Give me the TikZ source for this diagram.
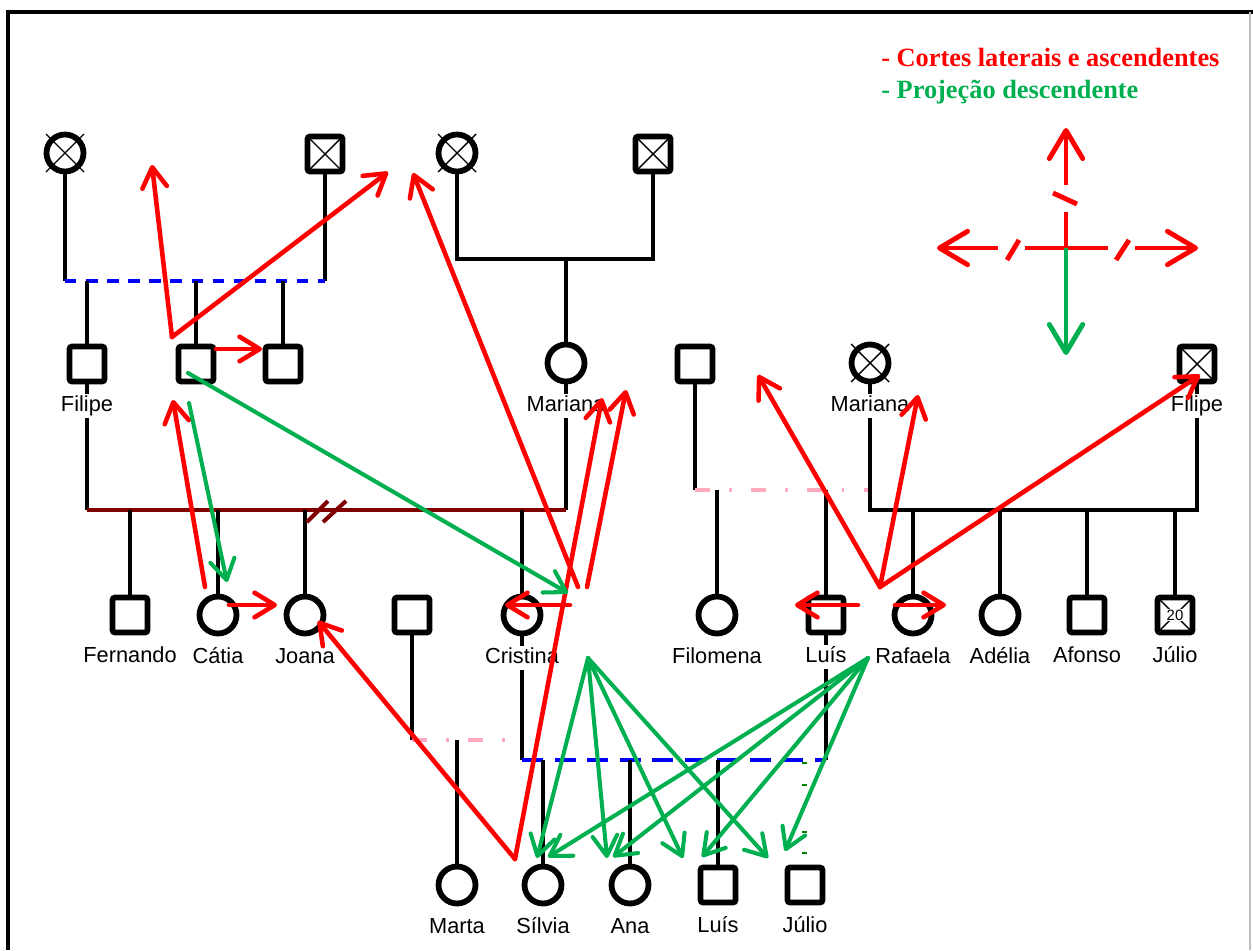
\documentclass[tikz,border=0pt]{standalone}
\usepackage{fontspec}
\setmainfont{Liberation Serif}
\setsansfont{Liberation Sans}
\usetikzlibrary{arrows.meta,backgrounds}
\definecolor{arrowred}{RGB}{255,0,0}
\definecolor{arrowgreen}{RGB}{0,176,80}
\definecolor{tickgreen}{RGB}{0,128,0}
\definecolor{maroonline}{RGB}{128,0,0}
\definecolor{pinkline}{RGB}{255,170,190}
\definecolor{blueline}{RGB}{0,0,255}

\begin{document}
\begin{tikzpicture}[x=0.02cm, y=-0.02cm, label distance=0.43cm, line width=2.8pt,
    male/.style={rectangle, draw, fill=white, line width=3.3pt, minimum size=0.7cm, rounded corners=1.5pt, inner sep=0pt},
    female/.style={circle, draw, fill=white, line width=3.3pt, minimum size=0.74cm, inner sep=0pt},
    crossed/.style={path picture={\draw[line width=0.8pt]
        (path picture bounding box.north west) -- (path picture bounding box.south east)
        (path picture bounding box.south west) -- (path picture bounding box.north east);}},
    lbl/.style={anchor=center, fill=white, inner sep=1pt, text height=9pt, text depth=2.5pt,
        font=\sffamily\fontsize{12.4}{14}\selectfont},
    kin/.style={line width=2.8pt},
    bluetie/.style={kin, draw=blueline, dash pattern=on 6.5pt off 5.5pt},
    bluetie2/.style={kin, draw=blueline, dash pattern=on 12pt off 6.5pt},
    pinktie/.style={kin, draw=pinkline, dash pattern=on 8.5pt off 11pt on 1.5pt off 11pt},
    redarr/.style={draw=arrowred, line width=2.6pt, line cap=round, -{Straight Barb[length=11.5pt, width=14pt, round]}},
    greenarr/.style={draw=arrowgreen, line width=2.3pt, line cap=round, -{Straight Barb[length=11.5pt, width=14pt, round]}},
    bigred/.style={draw=arrowred, line width=2.8pt, -{Straight Barb[length=16pt, width=19pt, round]}}]
    \useasboundingbox (0,0) rectangle (1253,950);

    % frame
    \draw[line width=2.3pt] (8,950) -- (8,12) -- (1253,12);
    \draw[line width=0.6pt, gray!50] (1250,12) -- (1250,950);

    % legend
    \node[anchor=west, text=arrowred, font=\bfseries\fontsize{15}{17}\selectfont] (leg1) at (873,57) {- Cortes laterais e ascendentes};
    \node[anchor=west, text=arrowgreen, font=\bfseries\fontsize{15}{17}\selectfont] (leg2) at (873,92) {- Projeção descendente};
    \draw[bigred] (1066,185) -- (1066,128);
    \draw[draw=arrowred, line width=2.8pt] (1053,193) -- (1077,204);
    \draw[draw=arrowred, line width=2.8pt] (1066,212) -- (1066,248);
    \draw[bigred] (998,248) -- (937,248);
    \draw[draw=arrowred, line width=2.8pt] (1007,260) -- (1019,240);
    \draw[draw=arrowred, line width=2.8pt] (1025,248) -- (1108,248);
    \draw[draw=arrowred, line width=2.8pt] (1116,260) -- (1129,240);
    \draw[bigred] (1135,248) -- (1198,248);
    \draw[bigred, draw=arrowgreen] (1066,248) -- (1066,355);

    % first generation
    \node[female] (g1a) at (65,153) {};
    \node[male, crossed] (g1b) at (325,154) {};
    \node[female] (g1c) at (457,153) {};
    \node[male, crossed] (g1d) at (653,154) {};

    % second generation
    \node[male, label={[lbl]below:Filipe}] (filipe1) at (87,364) {};
    \node[male] (s2) at (196,364) {};
    \node[male] (s3) at (283,364) {};
    \node[female, label={[lbl]below:Mariana}] (mariana1) at (566,363) {};
    \node[male] (m2) at (695,364) {};
    \node[female, label={[lbl]below:Mariana}] (mariana2) at (870,363) {};
    \node[male, crossed, label={[lbl]below:Filipe}] (filipe2) at (1197,364) {};

    % third generation
    \node[male, label={[lbl]below:Fernando}] (fernando) at (130,615) {};
    \node[female, label={[lbl]below:Cátia}] (catia) at (218,615) {};
    \node[female, label={[lbl]below:Joana}] (joana) at (305,615) {};
    \node[male] (m3) at (412,615) {};
    \node[female, label={[lbl]below:Cristina}] (cristina) at (522,615) {};
    \node[female, label={[lbl]below:Filomena}] (filomena) at (717,615) {};
    \node[male, label={[lbl]below:Luís}] (luis1) at (826,615) {};
    \node[female, label={[lbl]below:Rafaela}] (rafaela) at (913,615) {};
    \node[female, label={[lbl]below:Adélia}] (adelia) at (1000,615) {};
    \node[male, label={[lbl]below:Afonso}] (afonso) at (1087,615) {};
    \node[male, crossed, label={[lbl]below:Júlio}] (julio1) at (1175,615)
        {\sffamily\fontsize{8.5}{9}\selectfont\setlength{\fboxsep}{0.6pt}\colorbox{white}{20}};

    % fourth generation
    \node[female, label={[lbl]below:Marta}] (marta) at (457,885) {};
    \node[female, label={[lbl]below:Sílvia}] (silvia) at (543,885) {};
    \node[female, label={[lbl]below:Ana}] (ana) at (630,885) {};
    \node[male, label={[lbl]below:Luís}] (luis2) at (718,885) {};
    \node[male, label={[lbl]below:Júlio}] (julio2) at (805,885) {};

    % deceased marks on circles
    \foreach \n in {g1a, g1c, mariana2}
        \draw[line width=0.8pt] ([shift={(-19,-19)}]\n.center) -- ([shift={(19,19)}]\n.center)
            ([shift={(-19,19)}]\n.center) -- ([shift={(19,-19)}]\n.center);

    % family lines
    \coordinate (u1) at (325,281);
    \coordinate (u2) at (566,259);
    \coordinate (u3) at (566,510);
    \coordinate (u4) at (870,490);
    \coordinate (u5) at (1197,510);
    \coordinate (u6) at (505,740);
    \coordinate (u7) at (826,760);
    \begin{scope}[on background layer]
    \begin{scope}[kin]
        % g1a + g1b
        \draw (g1a) -- (g1a |- u1);
        \draw (g1b) -- (u1);
        \draw[bluetie] (g1a |- u1) -- (u1);
        \foreach \c in {filipe1, s2, s3}
            \draw (\c) -- (\c |- u1);
        % g1c + g1d
        \draw (g1c) |- (u2) -| (g1d);
        \draw (u2) -- (mariana1);
        % filipe1 + mariana1
        \draw (filipe1) -- (filipe1 |- u3);
        \draw (mariana1) -- (u3);
        \draw[maroonline] (filipe1 |- u3) -- (u3);
        \foreach \c in {fernando, catia, joana, cristina}
            \draw (\c) -- (\c |- u3);
        \draw[maroonline, line width=2.3pt] (307,522) -- (328,501) (323,522) -- (346,501);
        % m2 + mariana2
        \draw (m2) -- (m2 |- u4);
        \draw[pinktie] (m2 |- u4) -- (u4);
        \foreach \c in {filomena, luis1}
            \draw (\c) -- (\c |- u4);
        % mariana2 + filipe2
        \draw (mariana2) -- (mariana2 |- u5) -- (u5) -- (filipe2);
        \foreach \c in {rafaela, adelia, afonso, julio1}
            \draw (\c) -- (\c |- u5);
        % m3
        \draw (m3) -- (m3 |- u6);
        \draw[pinktie] (m3 |- u6) -- (u6);
        \draw (marta) -- (marta |- u6);
        % cristina + luis1
        \draw (cristina) -- (cristina |- u7);
        \draw (luis1) -- (u7);
        \draw[bluetie2] (cristina |- u7) -- (u7);
        \foreach \c in {silvia, ana, luis2}
            \draw (\c) -- (\c |- u7);
        \foreach \y in {763, 785, 832, 853}
            \draw[tickgreen, line width=1pt] (802,\y) -- (807,\y);
    \end{scope}
    \end{scope}

    % red arrows
    \coordinate (ra) at (172,337);
    \coordinate (rb) at (578,587);
    \coordinate (rc) at (205,587);
    \coordinate (rd) at (515,859);
    \coordinate (re) at (587,587);
    \coordinate (rf) at (880,587);
    \draw[redarr] (ra) -- (152,165);
    \draw[redarr] (ra) -- (388,172);
    \draw[redarr] (216,349) -- (262,349);
    \draw[redarr] (rb) -- (413,173);
    \draw[redarr] (rc) -- (173,400);
    \draw[redarr] (229,605) -- (277,605);
    \draw[redarr] (rd) -- (318,621);
    \draw[redarr] (rd) -- (602,398);
    \draw[redarr] (re) -- (626,390);
    \draw[redarr] (570,605) -- (505,605);
    \draw[redarr] (rf) -- (758,375);
    \draw[redarr] (rf) -- (918,395);
    \draw[redarr] (rf) -- (1200,375);
    \draw[redarr] (858,605) -- (795,605);
    \draw[redarr] (895,605) -- (946,605);

    % green arrows
    \coordinate (gc) at (588,658);
    \coordinate (gd) at (868,658);
    \draw[greenarr] (188,373) -- (568,593);
    \draw[greenarr] (189,403) -- (227,582);
    \foreach \t in {537, 607, 683, 768}
        \draw[greenarr] (gc) -- (\t,858);
    \draw[greenarr] (gd) -- (548,857);
    \draw[greenarr] (gd) -- (613,857);
    \draw[greenarr] (gd) -- (702,857);
    \draw[greenarr] (gd) -- (785,851);
\end{tikzpicture}
\end{document}
